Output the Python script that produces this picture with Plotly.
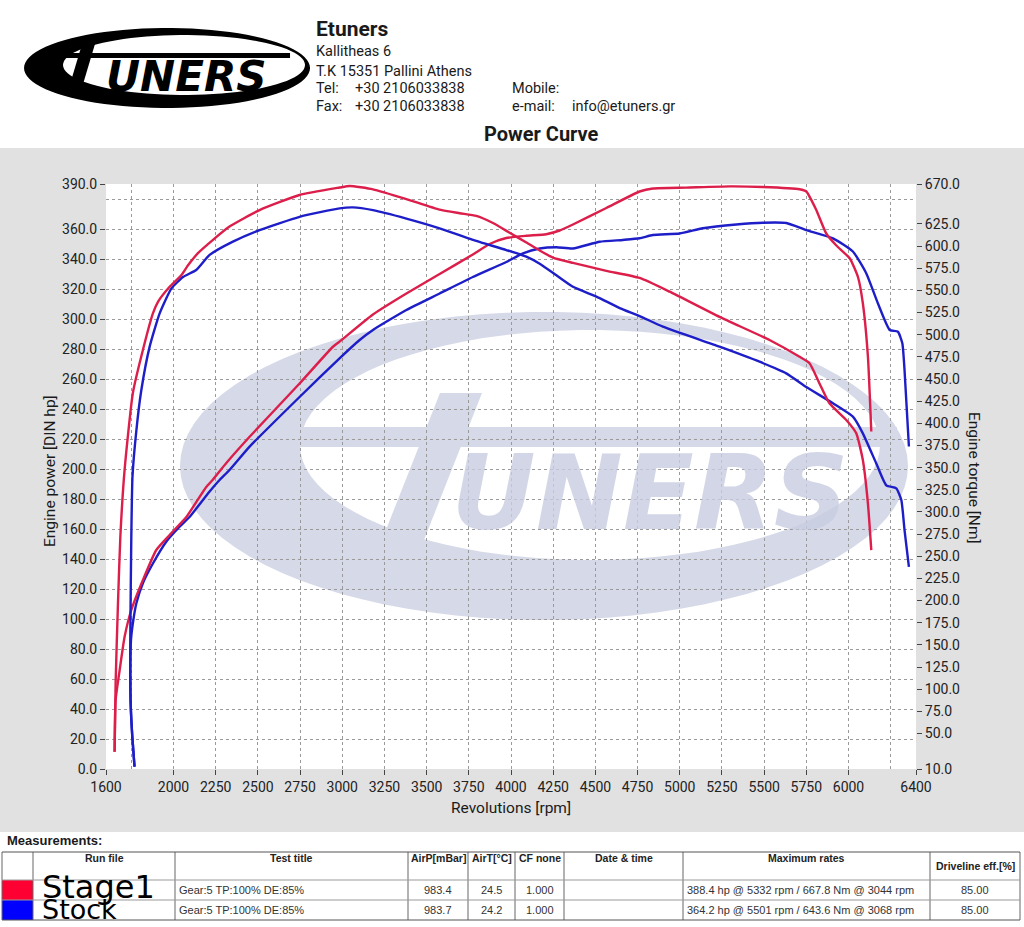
import numpy as np
import plotly.graph_objects as go

# ---------------- data ----------------
stage1_power_rpm = [1651, 1657, 1681, 1710, 1750, 1819, 1898, 1977, 2076, 2194, 2234, 2313, 2451, 2747, 2945,
                    2984, 3182, 3380, 3577, 3774, 3873, 3972, 4091, 4209, 4288, 4367, 4565, 4762, 4841, 5039,
                    5295, 5493, 5710, 5750, 5809, 5868, 5928, 6007, 6056, 6085, 6115, 6135]
stage1_power_hp = [11.5, 46, 66, 88, 106, 126, 146, 156, 168, 188, 193, 204, 221.5, 257, 281.5,
                   284.9, 303, 317, 330, 343, 350, 354, 355.5, 356.5, 359, 363, 374, 385, 387, 387.6,
                   388.4, 388, 386.5, 385, 372.7, 357, 349, 340.5, 328, 310.5, 275, 225]

stage1_torque_rpm = [1651, 1657, 1671, 1685, 1710, 1759, 1819, 1878, 1908, 1977, 2046, 2085, 2145, 2234, 2332,
                     2510, 2747, 2984, 3044, 3182, 3380, 3577, 3696, 3794, 3893, 3992, 4091, 4170, 4248, 4367,
                     4565, 4762, 4940, 5236, 5532, 5710, 5769, 5828, 5887, 5987, 6046, 6085, 6115, 6135]
stage1_torque_nm = [29.5, 107, 197, 272, 347, 434, 483, 524, 537, 554, 567, 578, 592, 607, 622,
                    640.6, 657.6, 666, 667.8, 664, 653, 641, 637, 634, 626, 615, 604, 595, 587, 581,
                    572, 564, 548.5, 520, 494, 475, 467.7, 445, 422.6, 403.7, 388.7, 358.6, 309.8, 257]

stock_power_rpm = [1769, 1756, 1746, 1744, 1748, 1759, 1780, 1819, 1878, 1957, 2036, 2095, 2214, 2273, 2332,
                   2451, 2747, 2984, 3103, 3182, 3380, 3577, 3774, 3972, 4071, 4170, 4269, 4367, 4525, 4663,
                   4762, 4841, 4999, 5137, 5335, 5493, 5631, 5750, 5908, 6026, 6105, 6174, 6244, 6293, 6319,
                   6332, 6358]
stock_power_hp = [1.5, 21.5, 44, 66, 86, 97, 110.5, 124, 137, 151.5, 161.5, 168, 185, 192.7, 199.3,
                  214.9, 248, 273.8, 286, 292.7, 306, 317, 328, 338, 343.8, 347, 347.8, 347, 351.5, 352.7,
                  353.8, 356, 357, 360.5, 363, 364.2, 364, 359.3, 353.8, 345, 330.5, 310.5, 292.7, 291.5, 283.8,
                  266, 215]

stock_torque_rpm = [1769, 1756, 1746, 1744, 1744, 1750, 1757, 1780, 1809, 1858, 1918, 1987, 2056, 2135, 2214,
                    2352, 2510, 2747, 2984, 3063, 3182, 3380, 3577, 3774, 3972, 4091, 4170, 4269, 4367, 4506,
                    4644, 4762, 4900, 5236, 5473, 5631, 5750, 5908, 6026, 6085, 6164, 6224, 6283, 6313, 6332, 6358]
stock_torque_nm = [12.6, 46, 84, 122, 159, 272, 340, 392, 437, 486, 524, 552, 565, 573, 590,
                   605, 618, 633, 642.5, 643.6, 640.5, 631, 620, 607, 595.5, 588, 580, 567, 554, 543,
                   530, 521, 509, 486.5, 469.5, 456.4, 441, 422.6, 407.5, 388.7, 355, 330, 326.7, 313.5, 279.6, 238]

x_ticks = [1600, 2000, 2250, 2500, 2750, 3000, 3250, 3500, 3750, 4000, 4250, 4500, 4750, 5000, 5250,
           5500, 5750, 6000, 6400]
x_grid = [1750, 2000, 2250, 2500, 2750, 3000, 3250, 3500, 3750, 4000, 4250, 4500, 4750, 5000, 5250,
          5500, 5750, 6000, 6250]
hp_ticks = [0, 20, 40, 60, 80, 100, 120, 140, 160, 180, 200, 220, 240, 260, 280, 300, 320, 340, 360, 390]
hp_grid = [20, 40, 60, 80, 100, 120, 140, 160, 180, 200, 220, 240, 260, 280, 300, 320, 340, 360, 380]
nm_ticks = [10, 50, 75, 100, 125, 150, 175, 200, 225, 250, 275, 300, 325, 350, 375, 400, 425, 450, 475,
            500, 525, 550, 575, 600, 625, 670]

table_header = ["Run file", "Test title", "AirP[mBar]", "AirT[°C]", "CF none", "Date & time",
                "Maximum rates", "Driveline eff.[%]"]
run_names = ["Stage1", "Stock"]
test_titles = ["Gear:5 TP:100% DE:85%", "Gear:5 TP:100% DE:85%"]
air_p = ["983.4", "983.7"]
air_t = ["24.5", "24.2"]
cf = ["1.000", "1.000"]
max_rates = ["388.4 hp @ 5332 rpm / 667.8 Nm @ 3044 rpm", "364.2 hp @ 5501 rpm / 643.6 Nm @ 3068 rpm"]
driveline = ["85.00", "85.00"]

RED = "#dc1e4b"
BLUE = "#1e1ec8"
WM = "#d6d9e8"
FONT = "Roboto"

# ---------------- geometry helpers ----------------
W, H = 1024, 927
L, R, T, B = 106, 916, 184, 769
PW, PH = R - L, B - T
X0, X1, Y0, Y1 = 1600, 6400, 0, 390


def PX(px):
    return (px - L) / PW


def PY(py):
    return (B - py) / PH


def DX(px):
    return X0 + (px - L) * (X1 - X0) / PW


def DY(py):
    return Y0 + (B - py) * (Y1 - Y0) / PH


def ellipse_pts(cx, cy, rx, ry, n=90, reverse=False):
    t = np.linspace(0, 2 * np.pi, n, endpoint=False)
    if reverse:
        t = t[::-1]
    return [(cx + rx * np.cos(a), cy - ry * np.sin(a)) for a in t]


def path_from(pts_list, fx, fy):
    s = ""
    for pts in pts_list:
        s += "M " + " L ".join(f"{fx(x):.4f},{fy(y):.4f}" for x, y in pts) + " Z "
    return s


shapes = []
annotations = []

# gray panel + white plot area
shapes.append(dict(type="rect", xref="paper", yref="paper", x0=PX(0), x1=PX(W), y0=PY(832), y1=PY(148),
                   fillcolor="#e1e1e1", line=dict(width=0), layer="below"))
shapes.append(dict(type="rect", xref="paper", yref="paper", x0=0, x1=1, y0=0, y1=1,
                   fillcolor="white", line=dict(width=0), layer="below"))

# watermark logo (in data coords so it is clipped to plot area)
ring = path_from([ellipse_pts(544, 466, 364, 154), ellipse_pts(590, 445, 290, 115, reverse=True)], DX, DY)
shapes.append(dict(type="path", xref="x", yref="y", path=ring, fillcolor=WM, line=dict(width=0), layer="below"))
bar = path_from([[(300, 427), (897, 427), (897, 447), (300, 447)]], DX, DY)
shapes.append(dict(type="path", xref="x", yref="y", path=bar, fillcolor=WM, line=dict(width=0), layer="below"))
stem = path_from([[(440, 393), (482, 393), (422, 545), (380, 545)]], DX, DY)
shapes.append(dict(type="path", xref="x", yref="y", path=stem, fillcolor=WM, line=dict(width=0), layer="below"))

# header logo (paper coords)
hring = path_from([ellipse_pts(167, 68, 143, 40), ellipse_pts(184, 65, 121, 30, reverse=True)], PX, PY)
shapes.append(dict(type="path", xref="paper", yref="paper", path=hring, fillcolor="black", line=dict(width=0)))
hbar = path_from([[(58, 53), (290, 53), (290, 58), (58, 58)]], PX, PY)
shapes.append(dict(type="path", xref="paper", yref="paper", path=hbar, fillcolor="black", line=dict(width=0)))
hstem = path_from([[(82, 44), (95, 44), (81, 91), (68, 91)]], PX, PY)
shapes.append(dict(type="path", xref="paper", yref="paper", path=hstem, fillcolor="black", line=dict(width=0)))


def ann(text, px, py, size=13, xanchor="left", yanchor="middle", weight="normal", family=FONT,
        color="#1a1a1a", angle=0, style="normal"):
    annotations.append(dict(text=text, x=PX(px), y=PY(py), xref="paper", yref="paper", showarrow=False,
                            xanchor=xanchor, yanchor=yanchor, textangle=angle,
                            font=dict(size=size, family=family, color=color, weight=weight, style=style)))


ann("UNERS", 186, 76, size=42, xanchor="center", weight="bold", style="italic",
    family="DejaVu Sans", color="black")

# header text
ann("Etuners", 314, 29, size=21, weight="bold")
ann("Kallitheas 6", 314, 52, size=14.5)
ann("T.K 15351 Pallini Athens", 314, 71, size=14.5)
ann("Tel:", 314, 89, size=14.5)
ann("+30 2106033838", 353, 89, size=14.5)
ann("Fax:", 314, 106, size=14.5)
ann("+30 2106033838", 353, 106, size=14.5)
ann("Mobile:", 510, 89, size=14.5)
ann("e-mail:", 510, 106, size=14.5)
ann("info@etuners.gr", 570, 106, size=14.5)
ann("Power Curve", 541, 134, size=20, xanchor="center", weight="bold")

# axis titles
ann("Revolutions [rpm]", 511, 808, size=15.5, xanchor="center")
ann("Engine power [DIN hp]", 50, 471, size=15.5, xanchor="center", angle=-90)
ann("Engine torque [Nm]", 974, 478, size=15.5, xanchor="center", angle=90)

# ---------------- table ----------------
TF = "Liberation Sans"
cols = [2, 33, 175, 408, 468, 515, 564, 683, 930, 1020]
rows = [852, 880, 900, 920]
ann("Measurements:", 5, 840, size=13, weight="bold", family=TF)
shapes.append(dict(type="rect", xref="paper", yref="paper", x0=PX(cols[0]), x1=PX(cols[1]),
                   y0=PY(900), y1=PY(880), fillcolor="#ff0033", line=dict(width=0)))
shapes.append(dict(type="rect", xref="paper", yref="paper", x0=PX(cols[0]), x1=PX(cols[1]),
                   y0=PY(920), y1=PY(900), fillcolor="#0000ff", line=dict(width=0)))
for cx in cols:
    shapes.append(dict(type="line", xref="paper", yref="paper", x0=PX(cx), x1=PX(cx), y0=PY(rows[0]),
                       y1=PY(rows[-1]), line=dict(color="#666666", width=1)))
for ry in rows:
    shapes.append(dict(type="line", xref="paper", yref="paper", x0=PX(cols[0]), x1=PX(cols[-1]), y0=PY(ry),
                       y1=PY(ry), line=dict(color="#555555" if ry in (852, 920) else "#9a9a9a", width=1)))

for i, htxt in enumerate(table_header):
    cxm = (cols[i + 1] + cols[i + 2]) / 2
    ann(htxt, cxm, 866 if htxt.startswith("Driveline") else 858, size=10.5, xanchor="center",
        weight="bold", family=TF, color="#222")

row_y = [890, 910]
for r in range(2):
    y = row_y[r]
    ann(test_titles[r], cols[2] + 2, y, size=11, family=TF, color="#333")
    ann(air_p[r], (cols[3] + cols[4]) / 2, y, size=11, xanchor="center", family=TF, color="#333")
    ann(air_t[r], (cols[4] + cols[5]) / 2, y, size=11, xanchor="center", family=TF, color="#333")
    ann(cf[r], (cols[5] + cols[6]) / 2, y, size=11, xanchor="center", family=TF, color="#333")
    ann(max_rates[r], cols[7] + 2, y, size=11, family=TF, color="#333")
    ann(driveline[r], (cols[8] + cols[9]) / 2, y, size=11, xanchor="center", family=TF, color="#333")
ann(run_names[0], 40, 887, size=32, family="DejaVu Sans", color="black")
ann(run_names[1], 40, 909, size=27, family="DejaVu Sans", color="black")

# ---------------- traces ----------------
fig = go.Figure()
# watermark letters as text behind the curves
fig.add_trace(go.Scatter(x=[DX(650)], y=[DY(503)], mode="text", text=["UNERS"], hoverinfo="skip",
                         textfont=dict(size=104, family="DejaVu Sans", color="rgba(200,204,224,0.8)",
                                       weight="bold", style="italic"), showlegend=False))
LS = dict(width=2.4, shape="spline", smoothing=0.5)
fig.add_trace(go.Scatter(x=stock_power_rpm, y=stock_power_hp, mode="lines", line=dict(color=BLUE, **LS),
                         name="Stock power", showlegend=False))
fig.add_trace(go.Scatter(x=stage1_power_rpm, y=stage1_power_hp, mode="lines", line=dict(color=RED, **LS),
                         name="Stage1 power", showlegend=False))
fig.add_trace(go.Scatter(x=stock_torque_rpm, y=stock_torque_nm, mode="lines", yaxis="y2",
                         line=dict(color=BLUE, **LS), name="Stock torque", showlegend=False))
fig.add_trace(go.Scatter(x=stage1_torque_rpm, y=stage1_torque_nm, mode="lines", yaxis="y2",
                         line=dict(color=RED, **LS), name="Stage1 torque", showlegend=False))

tickfont = dict(family=FONT, size=14, color="#222")
grid = dict(showgrid=True, gridcolor="#9a9a9a", griddash="dot", gridwidth=1, ticks="")

fig.update_layout(
    width=W, height=H, autosize=False,
    margin=dict(l=L, r=W - R, t=T, b=H - B, pad=0),
    paper_bgcolor="white", plot_bgcolor="white",
    shapes=shapes, annotations=annotations, showlegend=False,
    xaxis=dict(range=[X0, X1], tickmode="array", tickvals=x_ticks, ticktext=[str(v) for v in x_ticks],
               showgrid=False, zeroline=False, showline=False, ticks="outside", ticklen=5, tickcolor="#444",
               tickfont=tickfont, minor=dict(tickmode="array", tickvals=x_grid, **grid), fixedrange=True),
    yaxis=dict(range=[Y0, Y1], tickmode="array", tickvals=hp_ticks, ticktext=[f"{v:.1f}" for v in hp_ticks],
               showgrid=False, zeroline=False, showline=False, ticks="outside", ticklen=5, tickcolor="#444",
               tickfont=tickfont, minor=dict(tickmode="array", tickvals=hp_grid, **grid), fixedrange=True),
    yaxis2=dict(range=[10, 670], overlaying="y", side="right", tickmode="array", tickvals=nm_ticks,
                ticktext=[f"{v:.1f}" for v in nm_ticks], showgrid=False, zeroline=False, showline=False,
                ticks="outside", ticklen=5, tickcolor="#444", tickfont=tickfont, fixedrange=True),
)

fig.write_html("out.html", config={"displayModeBar": False},
               post_script="document.body.style.margin='0px';document.documentElement.style.overflow='hidden';")
